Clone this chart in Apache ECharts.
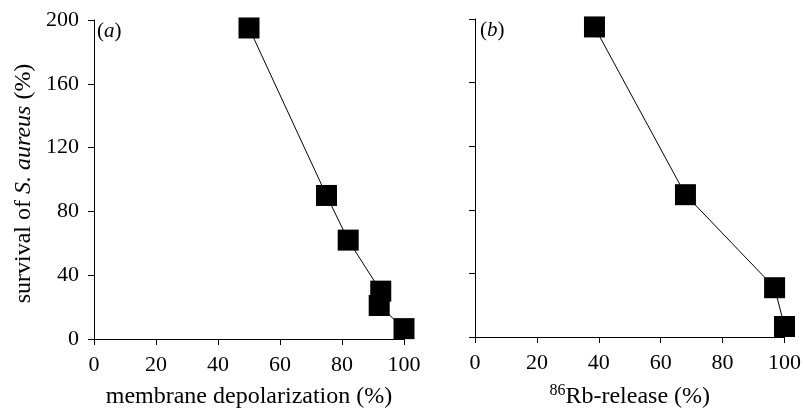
<!DOCTYPE html>
<html>
<head>
<meta charset="utf-8">
<script src="https://cdn.jsdelivr.net/npm/echarts@6/dist/echarts.min.js"></script>
<style>html,body{margin:0;padding:0;background:#fff}#c{width:804px;height:414px}</style>
</head>
<body>
<div id="c"></div>
<script>
// Panel (a): membrane depolarization vs survival
const depolX = [50, 75, 82, 92.5, 92, 100];
const depolY = [195, 90, 62, 30, 21, 6.5];
// Panel (b): 86Rb-release vs survival
const rbX = [38.6, 68, 96.8, 100];
const rbY = [195, 89.5, 31, 6.6];
const xTicks = [0, 20, 40, 60, 80, 100];
const yTicks = [0, 40, 80, 120, 160, 200];

const FONT = '"Liberation Serif", "Times New Roman", serif';
const chart = echarts.init(document.getElementById('c'), null, {renderer: 'canvas'});

function pairs(xs, ys) { return xs.map((x, i) => [x, ys[i]]); }

const axisCommon = {
  axisLine: {show: true, onZero: false, lineStyle: {color: '#000', width: 1}},
  axisTick: {show: true, inside: false, length: 6, lineStyle: {color: '#000', width: 1}},
  splitLine: {show: false},
};

chart.setOption({
  animation: false,
  backgroundColor: '#fff',
  textStyle: {fontFamily: FONT, color: '#000'},
  grid: [
    {left: 94, top: 20, width: 310, height: 321},
    {left: 475, top: 19, width: 310, height: 321}
  ],
  xAxis: [0, 1].map(i => Object.assign({}, axisCommon, {
    type: 'value', gridIndex: i, min: 0, max: 100, interval: 20,
    axisLabel: {fontFamily: FONT, fontSize: 22, color: '#000', margin: 15},
    name: i === 0 ? 'membrane depolarization (%)' : '{sup|86}{n|Rb-release (%)}',
    nameLocation: 'middle', nameGap: 46,
    nameTextStyle: {
      fontFamily: FONT, fontSize: 24, color: '#000',
      rich: {
        sup: {fontFamily: FONT, fontSize: 16, color: '#000', verticalAlign: 'top', lineHeight: 28, padding: [0, 0, 10, 0]},
        n: {fontFamily: FONT, fontSize: 24, color: '#000', lineHeight: 28}
      }
    }
  })),
  yAxis: [0, 1].map(i => Object.assign({}, axisCommon, {
    type: 'value', gridIndex: i, min: 0, max: 200, interval: 40,
    axisLabel: {show: i === 0, fontFamily: FONT, fontSize: 22, color: '#000', margin: 15},
    name: i === 0 ? '{n|survival of }{i|S. aureus}{n| (%)}' : '',
    nameLocation: 'middle', nameGap: 58, nameRotate: 90,
    nameTextStyle: {
      fontFamily: FONT, fontSize: 24, color: '#000', padding: [0, 8, 0, 0],
      rich: {
        n: {fontFamily: FONT, fontSize: 24, color: '#000'},
        i: {fontFamily: FONT, fontSize: 24, color: '#000', fontStyle: 'italic'}
      }
    }
  })),
  series: [
    {
      type: 'line', xAxisIndex: 0, yAxisIndex: 0, data: pairs(depolX, depolY),
      symbol: 'rect', symbolSize: 21, showAllSymbol: true,
      lineStyle: {color: '#000', width: 1}, itemStyle: {color: '#000'}
    },
    {
      type: 'line', xAxisIndex: 1, yAxisIndex: 1, data: pairs(rbX, rbY),
      symbol: 'rect', symbolSize: 21, showAllSymbol: true,
      lineStyle: {color: '#000', width: 1}, itemStyle: {color: '#000'}
    }
  ],
  graphic: [
    {type: 'text', left: 97, top: 21, style: {text: '{n|(}{i|a}{n|)}', rich: {
      n: {fontFamily: FONT, fontSize: 21, fill: '#000'},
      i: {fontFamily: FONT, fontSize: 21, fill: '#000', fontStyle: 'italic'}}}},
    {type: 'text', left: 480, top: 20, style: {text: '{n|(}{i|b}{n|)}', rich: {
      n: {fontFamily: FONT, fontSize: 21, fill: '#000'},
      i: {fontFamily: FONT, fontSize: 21, fill: '#000', fontStyle: 'italic'}}}}
  ]
});
</script>
</body>
</html>
